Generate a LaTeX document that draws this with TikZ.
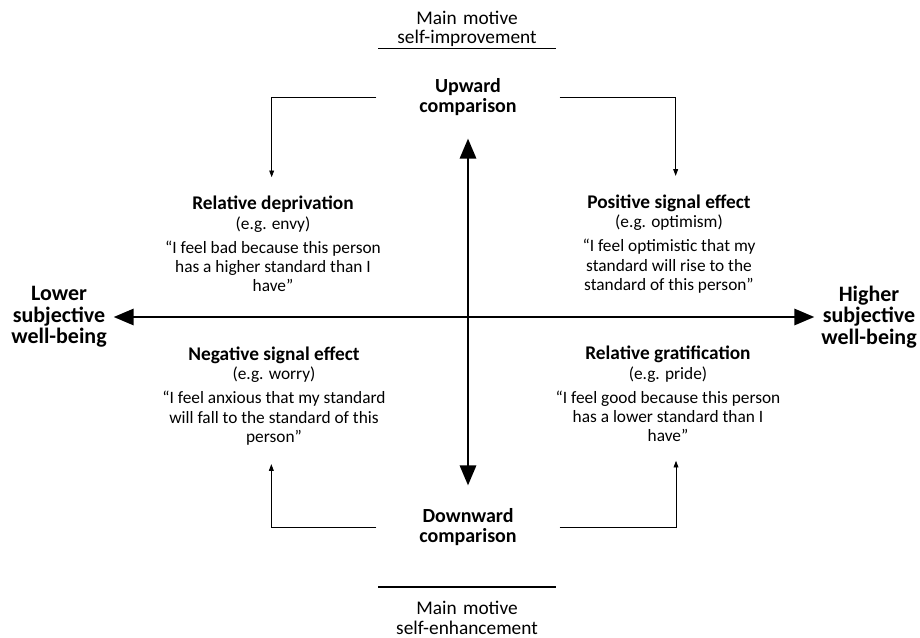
\documentclass[tikz,border=0pt]{standalone}
\usepackage{fontspec}
\setmainfont{Carlito}
\usetikzlibrary{arrows.meta}
\def\quadhead#1{{\fontsize{14.5}{15}\selectfont\bfseries #1}}

\begin{document}
\begin{tikzpicture}[x=0.75pt, y=-0.75pt,
	axis/.style={line width=2.2pt, shorten <=15pt, shorten >=15pt,
		{Triangle[length=15pt,width=12pt]}-{Triangle[length=15pt,width=12pt]}},
	elbow/.style={line width=0.6pt, -{Triangle[length=5pt,width=3.6pt]}},
	pole/.style={font=\fontsize{15}{15}\selectfont\bfseries, align=center, inner xsep=32pt, inner ysep=2pt},
	side/.style={font=\fontsize{16.5}{16}\selectfont\bfseries, align=center, inner sep=2pt},
	motive/.style={font=\fontsize{14.5}{14.5}\selectfont, align=center, text width=131pt, inner sep=1pt},
	quad/.style={font=\fontsize{13}{14.5}\selectfont, align=center, inner xsep=0pt, inner ysep=14pt},
	rule/.style={line width=1.4pt}]
		%%%%% START %%%%%
		
		\useasboundingbox (0, 0) rectangle (920, 638);
		
		% main motives
		\node[motive] (mtop) at (467, 29) {Main motive\\self-improvement};
		\draw[rule] (mtop.south west) -- (mtop.south east);
		\node[motive] (mbot) at (467, 618) {Main motive\\self-enhancement};
		\draw[rule] ([yshift=10]mbot.north west) -- ([yshift=10]mbot.north east);
		
		% poles
		\node[pole] (up) at (468, 97) {Upward\\comparison};
		\node[pole] (down) at (468, 527) {Downward\\comparison};
		\node[side] (lower) at (59, 317) {Lower\\subjective\\well-being};
		\node[side] (higher) at (869, 317) {Higher\\subjective\\well-being};
		
		% quadrants
		\node[quad] (reldep) at (273, 244) {\quadhead{Relative deprivation}\\(e.g. envy)\\[3.5pt]
			“I feel bad because this person\\has a higher standard than I\\have”};
		\node[quad] (possig) at (669, 244) {\quadhead{Positive signal effect}\\(e.g. optimism)\\[3.5pt]
			“I feel optimistic that my\\standard will rise to the\\standard of this person”};
		\node[quad] (negsig) at (274, 396) {\quadhead{Negative signal effect}\\(e.g. worry)\\[3.5pt]
			“I feel anxious that my standard\\will fall to the standard of this\\person”};
		\node[quad] (relgrat) at (668, 394) {\quadhead{Relative gratification}\\(e.g. pride)\\[3.5pt]
			“I feel good because this person\\has a lower standard than I\\have”};
		
		% axes
		\draw[axis] (up) -- (down);
		\draw[axis, shorten <=3pt, shorten >=3pt] (lower) -- (higher);
		
		% elbows
		\draw[elbow] (up.west) -| ([xshift=-1]reldep.north);
		\draw[elbow] (up.east) -| ([xshift=5]possig.north);
		\draw[elbow] (down.west) -| ([xshift=-2]negsig.south);
		\draw[elbow] (down.east) -| ([xshift=6]relgrat.south);
		
		%%%%% END %%%%%
	\end{tikzpicture}
\end{document}
